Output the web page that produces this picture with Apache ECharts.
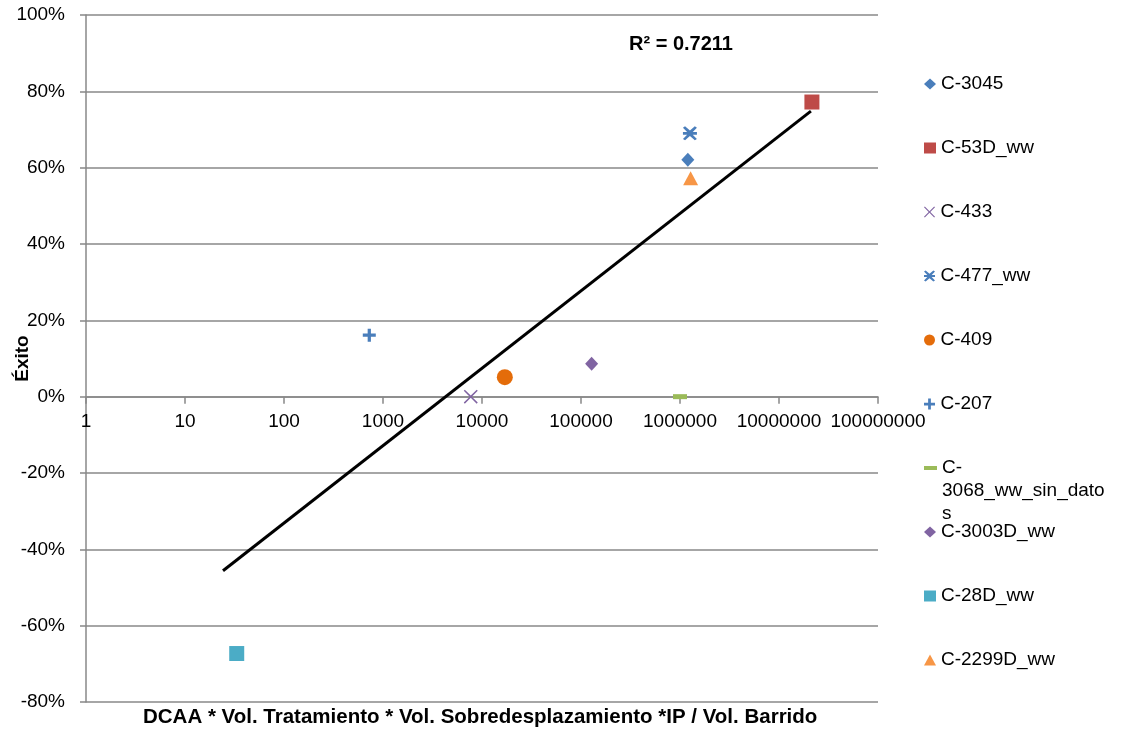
<!DOCTYPE html>
<html>
<head>
<meta charset="utf-8">
<script src="https://cdn.jsdelivr.net/npm/echarts@6/dist/echarts.min.js"></script>
<style>
  html, body { margin: 0; padding: 0; background: #fff; }
  #chart { width: 1128px; height: 730px; }
</style>
</head>
<body>
<div id="chart"></div>
<script>
// datos
var names = ['C-3045', 'C-53D_ww', 'C-433', 'C-477_ww', 'C-409', 'C-207',
             'C-3068_ww_sin_datos', 'C-3003D_ww', 'C-28D_ww', 'C-2299D_ww'];
var xVals = [1.2e6, 2.15e7, 7700, 1.26e6, 17000, 727, 1.0e6, 128000, 33.3, 1.28e6];
var yVals = [62.1, 77.2, 0, 69.0, 5.1, 16.1, 0, 8.6, -67.3, 57.2];
var trendX = [24.2, 2.1e7];
var trendY = [-45.6, 74.8];
var r2Text = 'R² = 0.7211';

var colors = ['#4a7ebb', '#be4b48', '#8064a2', '#4a7ebb', '#e46c0a', '#4a7ebb',
              '#9bbb59', '#8064a2', '#4bacc6', '#f79646'];

var xPath = 'path://M0,1.5L1.5,0L10,8.5L18.5,0L20,1.5L11.5,10L20,18.5L18.5,20L10,11.5L1.5,20L0,18.5L8.5,10Z';
var starPath = 'path://M0,2L3,0L10,6L17,0L20,2L14,8H20V12H14L20,18L17,20L10,14L3,20L0,18L6,12H0V8H6Z';
var plusPath = 'path://M7.5,0H12.5V7.5H20V12.5H12.5V20H7.5V12.5H0V7.5H7.5Z';
var symbols = ['diamond', 'rect', xPath, starPath, 'circle', plusPath, 'rect', 'diamond', 'rect', 'triangle'];
var sizes = [[13, 14], 15, 14, 14, 16, 13, [14, 5], [13, 14], 15, [15, 14]];

var chart = echarts.init(document.getElementById('chart'));
var font = 'Liberation Sans, Arial, sans-serif';

var series = names.map(function (n, i) {
    return {
        name: n,
        type: 'scatter',
        symbol: symbols[i],
        symbolSize: sizes[i],
        itemStyle: { color: colors[i], opacity: 1 },
        data: [[xVals[i], yVals[i]]],
        z: 3
    };
});
series.push({
    name: 'trend',
    type: 'line',
    data: [[trendX[0], trendY[0]], [trendX[1], trendY[1]]],
    symbol: 'none',
    lineStyle: { color: '#000', width: 3 },
    z: 2
});

// una leyenda por serie, como en el original
var legends = names.map(function (n, i) {
    var c = 84 + 64 * i;
    var multi = n === 'C-3068_ww_sin_datos';
    return {
        left: 924,
        top: multi ? c - 57.5 : c - 11.5,
        padding: 0,
        orient: 'vertical',
        data: [n],
        itemWidth: multi ? 13 : 12,
        itemHeight: multi ? 4 : 11,
        itemGap: 0,
        selectedMode: false,
        formatter: multi ? function () { return '\n\nC-\n3068_ww_sin_dato\ns'; } : '{name}',
        textStyle: { fontFamily: font, fontSize: 19, color: '#000', lineHeight: 23 }
    };
});

// el eje X cruza en 0%
var gridTop = 15, gridBottom = 28;
var plotH = 730 - gridTop - gridBottom;
var zeroOffset = -plotH * 80 / 180;

chart.setOption({
    animation: false,
    grid: { left: 86, right: 250, top: gridTop, bottom: gridBottom, containLabel: false, outerBoundsMode: 'none' },
    xAxis: {
        type: 'log',
        logBase: 10,
        min: 1,
        max: 1e8,
        offset: zeroOffset,
        axisLine: { onZero: false, lineStyle: { color: '#888', width: 1.5 } },
        axisTick: { show: true, length: 7, lineStyle: { color: '#888', width: 1.5 } },
        axisLabel: {
            margin: 16,
            fontFamily: font,
            fontSize: 19,
            color: '#000',
            formatter: function (v) { return String(Math.round(v)); }
        },
        splitLine: { show: false },
        minorTick: { show: false }
    },
    yAxis: {
        type: 'value',
        min: -80,
        max: 100,
        interval: 20,
        name: 'Éxito',
        nameLocation: 'middle',
        nameGap: 54,
        nameMoveOverlap: false,
        nameTextStyle: { fontFamily: font, fontSize: 19, fontWeight: 'bold', color: '#000' },
        axisLine: { show: true, onZero: false, lineStyle: { color: '#888', width: 1.5 } },
        axisTick: { show: true, length: 6, lineStyle: { color: '#888', width: 1.5 } },
        axisLabel: {
            margin: 21,
            fontFamily: font,
            fontSize: 19,
            color: '#000',
            formatter: function (v) { return v + '%'; }
        },
        splitLine: { show: true, lineStyle: { color: '#888', width: 1.5 } }
    },
    legend: legends,
    graphic: [
        {
            type: 'text',
            left: 629,
            top: 34,
            style: { text: r2Text, fontFamily: font, fontSize: 20, fontWeight: 'bold', fill: '#000' }
        },
        {
            type: 'text',
            left: 143,
            top: 707,
            style: {
                text: 'DCAA * Vol. Tratamiento * Vol. Sobredesplazamiento *IP / Vol. Barrido',
                fontFamily: 'Liberation Sans Narrow, Arial Narrow, sans-serif',
                fontSize: 20.5, fontWeight: 'bold', fill: '#000'
            }
        }
    ],
    series: series
});
</script>
</body>
</html>
